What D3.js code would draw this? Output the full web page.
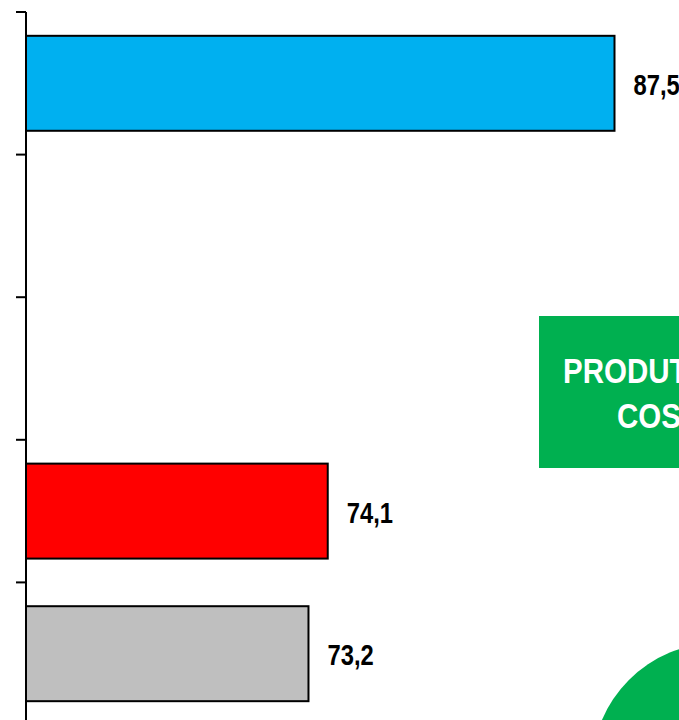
<!DOCTYPE html>
<html>
<head>
<meta charset="utf-8">
<script src="https://cdn.jsdelivr.net/npm/d3@7"></script>
<style>
  html, body { margin: 0; padding: 0; background: #fff; overflow: hidden; }
  svg { display: block; }
</style>
</head>
<body>
<svg width="679" height="720"></svg>
<script>
// dados do gráfico
var categories = ["A", "B", "C", "D", "E"];
var values = [87.5, null, null, 74.1, 73.2];
var colors = ["#00B0F0", null, null, "#FF0000", "#BFBFBF"];
var valueLabels = ["87,5", "", "", "74,1", "73,2"];
var boxLines = ["PRODUTOS DE HIGIENE", "COSMÉTICOS"];

var svg = d3.select("svg");
const g = svg.append("g");

// fonte estreita (Arial Narrow não existe aqui, então comprime na horizontal)
var narrow = 0.82;
var fontFam = "'Liberation Sans', Arial, sans-serif";

// escalas
var x = d3.scaleLinear().domain([60, 90]).range([26, 668]);
var y = d3.scaleBand().domain(categories).range([12, 725])
  .paddingInner(0.334).paddingOuter(0.167);

// barras
var rows = categories.map((c, i) => ({cat: c, v: values[i], color: colors[i], label: valueLabels[i]}))
  .filter(d => d.v != null);

g.selectAll("rect.bar")
  .data(rows)
  .enter()
  .append("rect")
    .attr("class", "bar")
    .attr("x", x(60))
    .attr("y", d => y(d.cat))
    .attr("width", d => x(d.v) - x(60))
    .attr("height", y.bandwidth())
    .attr("fill", d => d.color)
    .attr("stroke", "#000")
    .attr("stroke-width", 2);

// rótulos de valor
g.selectAll("text.val")
  .data(rows)
  .enter()
  .append("text")
    .attr("class", "val")
    .attr("transform", d => "translate(" + (x(d.v) + 19) + "," + (y(d.cat) + y.bandwidth() / 2 + 1) + ") scale(" + narrow + ",1)")
    .attr("dy", "0.36em")
    .attr("font-family", fontFam)
    .attr("font-weight", "bold")
    .attr("font-size", 29)
    .attr("fill", "#000")
    .text(d => d.label);

// eixo vertical com marcas entre categorias
var halfGap = y.step() * y.paddingInner() / 2;
var bounds = categories.map(c => y(c) - halfGap);
bounds.push(y(categories[categories.length - 1]) + y.bandwidth() + halfGap);

g.append("line")
  .attr("x1", x(60)).attr("x2", x(60))
  .attr("y1", bounds[0]).attr("y2", 730)
  .attr("stroke", "#000").attr("stroke-width", 2);

g.selectAll("line.tick")
  .data(bounds)
  .enter()
  .append("line")
    .attr("class", "tick")
    .attr("x1", x(60) - 10).attr("x2", x(60))
    .attr("y1", d => d).attr("y2", d => d)
    .attr("stroke", "#000").attr("stroke-width", 2);

// caixa verde
g.append("rect")
  .attr("x", 539).attr("y", 316)
  .attr("width", 200).attr("height", 152)
  .attr("fill", "#00B050");

[[563, 383], [617, 428]].forEach(function(p, i) {
  g.append("text")
    .attr("transform", "translate(" + p[0] + "," + p[1] + ") scale(" + narrow + ",1)")
    .attr("font-family", fontFam)
    .attr("font-weight", "bold")
    .attr("font-size", 36)
    .attr("fill", "#fff")
    .text(boxLines[i]);
});

// círculo verde
g.append("circle")
  .attr("cx", 718).attr("cy", 769).attr("r", 126)
  .attr("fill", "#00B050");
</script>
</body>
</html>
